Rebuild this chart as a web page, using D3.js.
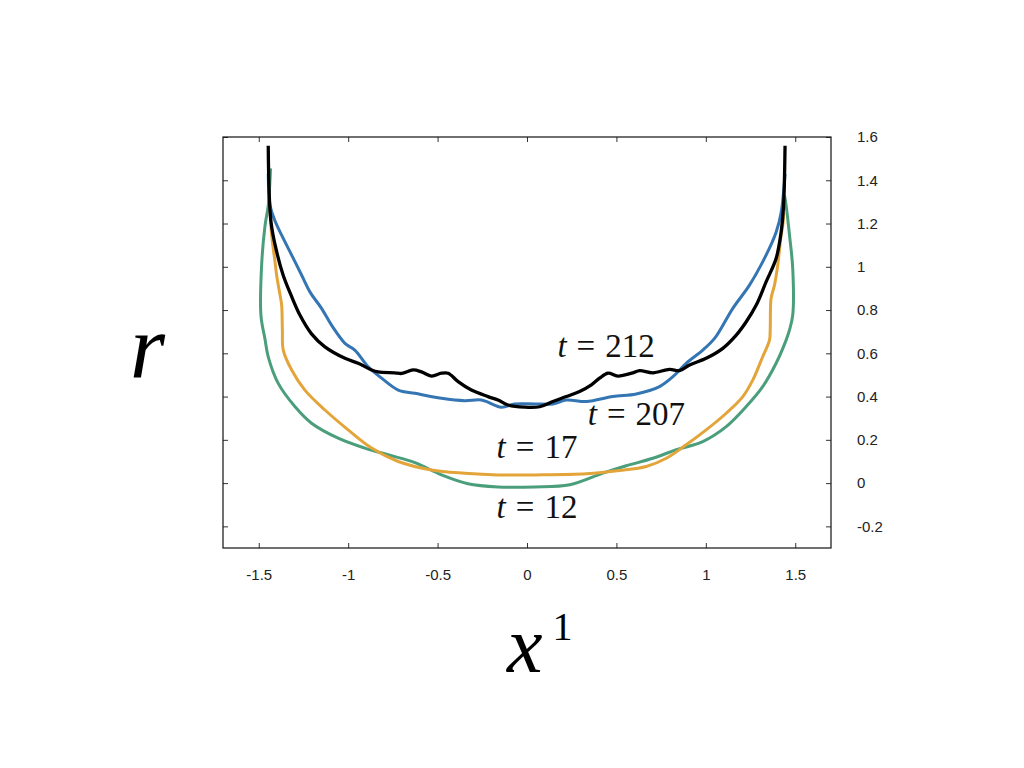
<!DOCTYPE html>
<html>
<head>
<meta charset="utf-8">
<script src="https://cdn.jsdelivr.net/npm/d3@7"></script>
<style>
  body { margin: 0; background: #fff; }
  svg { display: block; }
</style>
</head>
<body>
<svg id="chart"></svg>
<script>
// curves r(x^1), points as [x, r]
const curveT12 = [
  [-1.434, 1.455], [-1.447, 1.284], [-1.465, 1.19], [-1.484, 1.007], [-1.488, 0.777],
  [-1.465, 0.665], [-1.447, 0.584], [-1.391, 0.461], [-1.298, 0.354], [-1.205, 0.277],
  [-1.056, 0.208], [-0.907, 0.162], [-0.777, 0.131], [-0.627, 0.095], [-0.478, 0.038],
  [-0.33, -0.003], [-0.162, -0.018], [0.043, -0.018], [0.239, -0.008], [0.425, 0.046],
  [0.555, 0.08], [0.704, 0.115], [0.835, 0.154], [0.983, 0.192], [1.114, 0.261],
  [1.226, 0.354], [1.318, 0.446], [1.393, 0.554], [1.449, 0.661], [1.468, 0.708],
  [1.486, 0.777], [1.486, 0.992], [1.468, 1.146], [1.449, 1.284], [1.44, 1.33]
];
const curveT17 = [
  [-1.437, 1.26], [-1.428, 1.146], [-1.409, 1.023], [-1.4, 0.961], [-1.381, 0.869],
  [-1.372, 0.823], [-1.368, 0.708], [-1.363, 0.615], [-1.316, 0.523], [-1.242, 0.43],
  [-1.13, 0.338], [-1.0, 0.246], [-0.869, 0.162], [-0.72, 0.1], [-0.534, 0.061],
  [-0.348, 0.046], [-0.162, 0.038], [0.043, 0.038], [0.332, 0.043], [0.518, 0.058],
  [0.667, 0.077], [0.779, 0.115], [0.89, 0.177], [1.002, 0.246], [1.114, 0.323],
  [1.207, 0.4], [1.263, 0.477], [1.318, 0.584], [1.356, 0.661], [1.36, 0.708],
  [1.365, 0.854], [1.384, 0.915], [1.402, 1.007], [1.421, 1.146], [1.43, 1.19], [1.435, 1.25]
];
const curveT207 = [
  [-1.447, 1.43], [-1.437, 1.284], [-1.413, 1.22], [-1.372, 1.146], [-1.316, 1.054],
  [-1.26, 0.961], [-1.214, 0.884], [-1.149, 0.808], [-1.093, 0.73], [-1.018, 0.646],
  [-0.963, 0.615], [-0.888, 0.538], [-0.813, 0.485], [-0.72, 0.43], [-0.627, 0.415],
  [-0.478, 0.392], [-0.348, 0.381], [-0.255, 0.384], [-0.143, 0.351], [-0.069, 0.366],
  [0.043, 0.366], [0.145, 0.366], [0.22, 0.384], [0.332, 0.377], [0.48, 0.4],
  [0.611, 0.412], [0.741, 0.446], [0.816, 0.492], [0.89, 0.554], [0.983, 0.615],
  [1.05, 0.67], [1.151, 0.808], [1.244, 0.915], [1.337, 1.054], [1.393, 1.16],
  [1.421, 1.25], [1.443, 1.43]
];
const curveT212 = [
  [-1.447, 1.56], [-1.432, 1.21], [-1.4, 1.07], [-1.363, 0.96], [-1.32, 0.87],
  [-1.27, 0.777], [-1.205, 0.69], [-1.13, 0.63], [-1.018, 0.577], [-0.944, 0.554],
  [-0.869, 0.523], [-0.832, 0.514], [-0.739, 0.51], [-0.7, 0.507], [-0.637, 0.523],
  [-0.59, 0.514], [-0.534, 0.495], [-0.478, 0.508], [-0.441, 0.508], [-0.385, 0.469],
  [-0.311, 0.43], [-0.218, 0.4], [-0.162, 0.384], [-0.106, 0.361], [-0.013, 0.351],
  [0.071, 0.353], [0.145, 0.377], [0.22, 0.4], [0.294, 0.423], [0.36, 0.454],
  [0.406, 0.485], [0.453, 0.508], [0.508, 0.495], [0.592, 0.51], [0.63, 0.52],
  [0.704, 0.51], [0.797, 0.526], [0.853, 0.52], [0.909, 0.546], [1.002, 0.577],
  [1.095, 0.623], [1.17, 0.684], [1.226, 0.746], [1.282, 0.823], [1.337, 0.93],
  [1.393, 1.038], [1.421, 1.16], [1.434, 1.27], [1.443, 1.56]
];

const xTicks = [-1.5, -1, -0.5, 0, 0.5, 1, 1.5];
const yTicks = [-0.2, 0, 0.2, 0.4, 0.6, 0.8, 1, 1.2, 1.4, 1.6];

const curveTimes = ["12", "17", "207", "212"];
const curveColors = ["#4a9e7b", "#e3a43a", "#3475b4", "#000000"];
const labelPos = [[-0.17, -0.16], [-0.17, 0.115], [0.34, 0.27], [0.17, 0.585]];

// drawing
const width = 1024, height = 768;
const margin = { top: 137, right: 193, bottom: 220, left: 223 };

const svg = d3.select("#chart")
  .attr("width", width)
  .attr("height", height);

const xScale = d3.scaleLinear().domain([-1.7, 1.7]).range([margin.left, width - margin.right]);
const yScale = d3.scaleLinear().domain([-0.3, 1.6]).range([height - margin.bottom, margin.top]);

const line = d3.line()
  .x(d => xScale(d[0]))
  .y(d => yScale(d[1]))
  .curve(d3.curveCatmullRom.alpha(0.5));

const tickFont = "'Liberation Sans', Arial, sans-serif";
const mathFont = "'Liberation Serif', 'Times New Roman', serif";

// axes, ticks pointing inward
svg.append("g")
  .attr("transform", "translate(0," + (height - margin.bottom) + ")")
  .call(d3.axisBottom(xScale).tickValues(xTicks).tickSizeInner(-5).tickSizeOuter(0)
    .tickPadding(21).tickFormat(d3.format("")))
  .call(g => g.select(".domain").remove());

svg.append("g")
  .attr("transform", "translate(0," + margin.top + ")")
  .call(d3.axisTop(xScale).tickValues(xTicks).tickSizeInner(-5).tickSizeOuter(0).tickFormat(""))
  .call(g => g.select(".domain").remove());

svg.append("g")
  .attr("transform", "translate(" + margin.left + ",0)")
  .call(d3.axisLeft(yScale).tickValues(yTicks).tickSizeInner(-5).tickSizeOuter(0).tickFormat(""))
  .call(g => g.select(".domain").remove());

svg.append("g")
  .attr("transform", "translate(" + (width - margin.right) + ",0)")
  .call(d3.axisRight(yScale).tickValues(yTicks).tickSizeInner(-5).tickSizeOuter(0)
    .tickPadding(26).tickFormat(d3.format("")))
  .call(g => g.select(".domain").remove());

svg.selectAll(".tick line").attr("stroke", "#333").attr("stroke-width", 1);
svg.selectAll(".tick text")
  .attr("font-family", tickFont)
  .attr("font-size", 15)
  .attr("fill", "#222")
  .text(function () { return this.textContent.replace("−", "-"); });

// frame
svg.append("rect")
  .attr("x", margin.left)
  .attr("y", margin.top)
  .attr("width", width - margin.left - margin.right)
  .attr("height", height - margin.top - margin.bottom)
  .attr("fill", "none")
  .attr("stroke", "#111")
  .attr("stroke-width", 1.2);

// curves
[curveT12, curveT17, curveT207, curveT212].forEach((c, i) => {
  svg.append("path")
    .datum(c)
    .attr("fill", "none")
    .attr("stroke", curveColors[i])
    .attr("stroke-width", i === 3 ? 3.3 : 3)
    .attr("stroke-linejoin", "round")
    .attr("d", line);
});

// curve labels, wide spacing around "=" like LaTeX
curveTimes.forEach((tv, i) => {
  const txt = svg.append("text")
    .attr("x", xScale(labelPos[i][0]))
    .attr("y", yScale(labelPos[i][1]))
    .attr("font-family", mathFont)
    .attr("font-size", 33)
    .attr("fill", "#111");
  txt.append("tspan").attr("font-style", "italic").text("t");
  txt.append("tspan").attr("dx", 10).text("=");
  txt.append("tspan").attr("dx", 10).text(tv);
});

// axis titles
svg.append("text")
  .attr("x", 130)
  .attr("y", 377)
  .attr("font-family", mathFont)
  .attr("font-style", "italic")
  .attr("font-size", 90)
  .attr("fill", "#000")
  .text("r");

const xTitle = svg.append("text")
  .attr("x", 507)
  .attr("y", 672)
  .attr("font-family", mathFont)
  .attr("fill", "#000");
xTitle.append("tspan").attr("font-style", "italic").attr("font-size", 80).text("x");
xTitle.append("tspan").attr("font-size", 40).attr("dx", 10).attr("dy", -32).text("1");
</script>
</body>
</html>
